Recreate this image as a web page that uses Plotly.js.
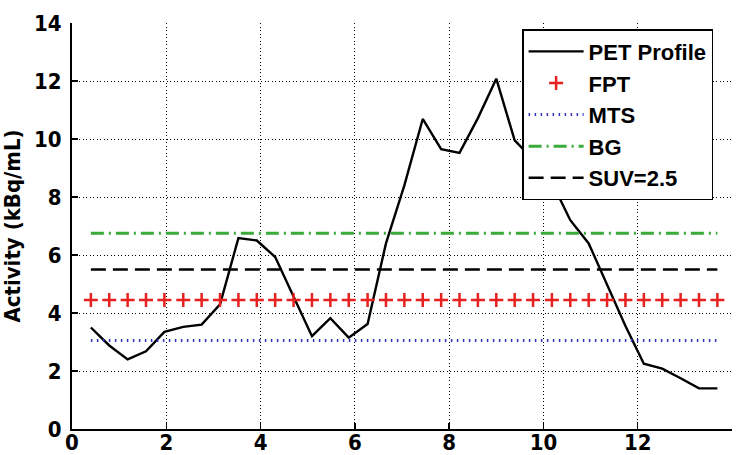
<!DOCTYPE html>
<html>
<head>
<meta charset="utf-8">
<script src="https://cdn.plot.ly/plotly-3.0.1.min.js"></script>
<style>html,body{margin:0;padding:0;background:#fff;}#chart{width:745px;height:455px;}</style>
</head>
<body>
<div id="chart"></div>
<script>
// Sample positions along the profile (x)
const sampleX = [0.40, 0.79, 1.18, 1.57, 1.96, 2.36, 2.75, 3.14, 3.53, 3.92, 4.31, 4.70, 5.09, 5.48, 5.87, 6.27, 6.66, 7.05, 7.44, 7.83, 8.22, 8.61, 9.00, 9.39, 9.78, 10.18, 10.57, 10.96, 11.35, 11.74, 12.13, 12.52, 12.91, 13.30, 13.69];
// PET profile activity (kBq/mL)
const petProfile = [3.50, 2.88, 2.40, 2.68, 3.35, 3.52, 3.60, 4.30, 6.58, 6.50, 5.93, 4.55, 3.20, 3.82, 3.15, 3.62, 6.40, 8.40, 10.69, 9.65, 9.52, 10.72, 12.08, 9.95, 9.30, 8.50, 7.20, 6.40, 4.95, 3.55, 2.25, 2.08, 1.75, 1.40, 1.40];
// Threshold levels (kBq/mL)
const fptLevel = 4.45;
const mtsLevel = 3.05;
const bgLevel = 6.75;
const suvLevel = 5.5;
// Legend labels
const seriesNames = ["PET Profile", "FPT", "MTS", "BG", "SUV=2.5"];
// Axis ticks
const xTicks = [0, 2, 4, 6, 8, 10, 12, 14];
const yTicks = [0, 2, 4, 6, 8, 10, 12, 14];

const flat = v => sampleX.map(() => v);
const lineX = [sampleX[0], sampleX[sampleX.length - 1]];

const traces = [
  {x: sampleX, y: petProfile, name: seriesNames[0], mode: 'lines',
   line: {color: '#000', width: 2.4}},
  {x: sampleX, y: flat(fptLevel), name: seriesNames[1], mode: 'markers',
   marker: {symbol: 'cross-thin', size: 10, line: {color: '#e82020', width: 2.5}, color: '#e82020'}},
  {x: lineX, y: [mtsLevel, mtsLevel], name: seriesNames[2], mode: 'lines',
   line: {color: '#3030c0', width: 3, dash: '1.5px,4.5px'}},
  {x: lineX, y: [bgLevel, bgLevel], name: seriesNames[3], mode: 'lines',
   line: {color: '#3aaa3a', width: 3, dash: '13px,5px,2px,5px'}},
  {x: lineX, y: [suvLevel, suvLevel], name: seriesNames[4], mode: 'lines',
   line: {color: '#000', width: 2.4, dash: '15px,7px'}}
];

const NARROW = 'Liberation Sans Narrow, DejaVu Sans Condensed, Arial Narrow, sans-serif';
const WIDE = 'Liberation Sans, Arial, Helvetica, sans-serif';
const tickFont = {family: NARROW, size: 22, color: '#000', weight: 'bold'};

const layout = {
  width: 745, height: 455,
  margin: {l: 72, r: 13, t: 23, b: 26},
  paper_bgcolor: '#fff', plot_bgcolor: '#fff',
  showlegend: true,
  font: {family: WIDE, color: '#000'},
  xaxis: {
    range: [0, 14], tickvals: xTicks, ticktext: xTicks.map(String),
    showline: true, linecolor: '#000', linewidth: 2,
    ticks: 'inside', ticklen: 6, tickwidth: 1.5, tickcolor: '#000',
    showgrid: true, gridcolor: '#000', gridwidth: 1, griddash: '1px,2.5px',
    zeroline: false, tickfont: tickFont, ticklabelstandoff: -7
  },
  yaxis: {
    range: [0, 14], tickvals: yTicks, ticktext: yTicks.map(String),
    showline: true, linecolor: '#000', linewidth: 2,
    ticks: 'inside', ticklen: 6, tickwidth: 1.5, tickcolor: '#000',
    showgrid: true, gridcolor: '#000', gridwidth: 1, griddash: '1px,2.5px',
    zeroline: false, tickfont: tickFont, ticklabelstandoff: 4,
    title: {text: 'Activity (kBq/mL)', font: {family: NARROW, size: 22, color: '#000', weight: 'bold'}, standoff: 8}
  },
  legend: {
    x: 0.682, y: 0.985, xanchor: 'left', yanchor: 'top',
    bgcolor: '#fff', bordercolor: '#000', borderwidth: 1.5,
    font: {family: WIDE, size: 22, color: '#000', weight: 'bold'},
    itemwidth: 55
  }
};

Plotly.newPlot('chart', traces, layout, {displayModeBar: false, staticPlot: true});
</script>
</body>
</html>
